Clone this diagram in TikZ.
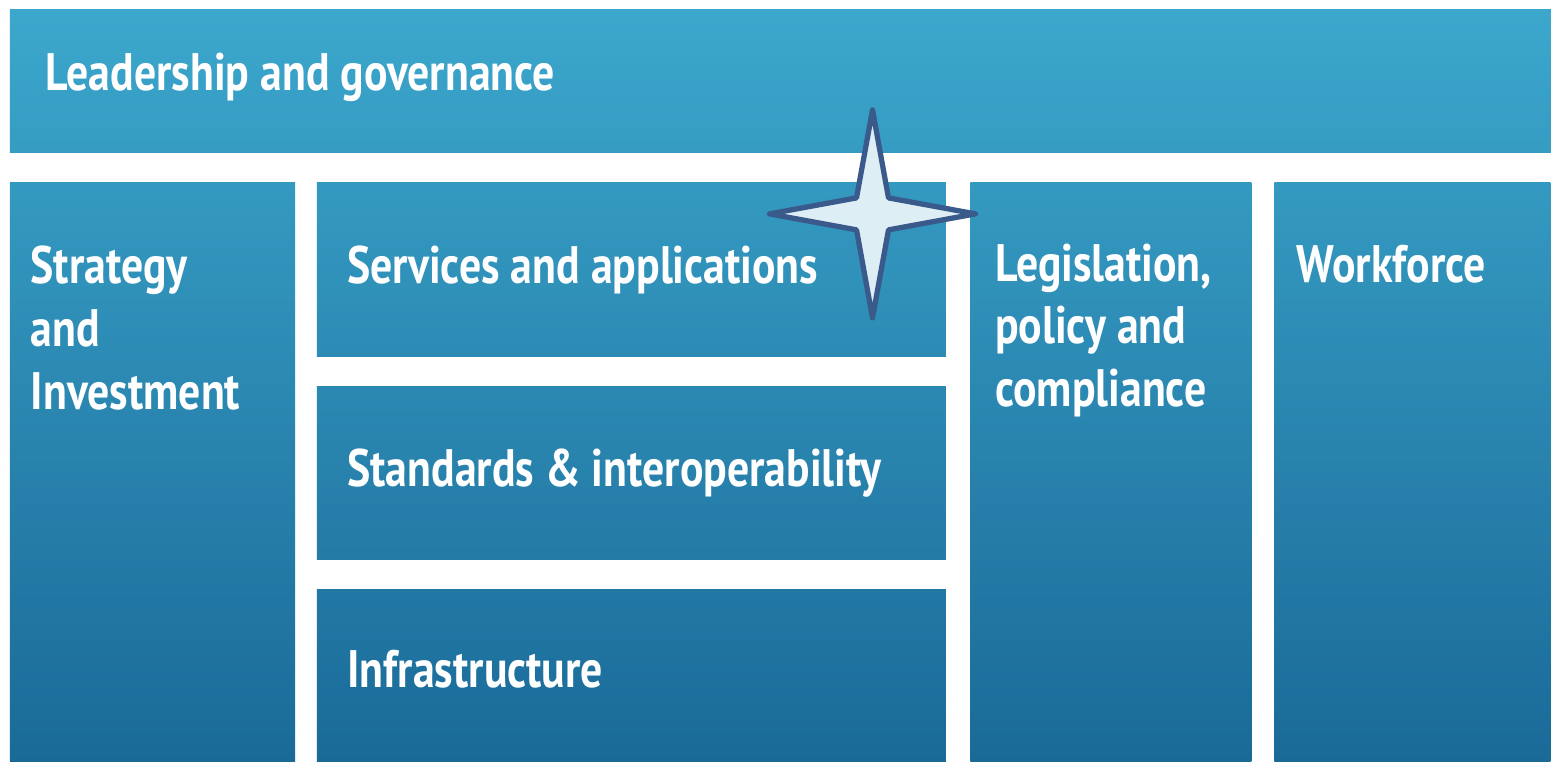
\documentclass[tikz,border=0pt]{standalone}
\usepackage{fontspec}
\setmainfont{PT Sans}[FakeStretch=0.83]
\usepackage{xcolor}
\usetikzlibrary{positioning, calc}

\definecolor{gtop}{HTML}{3CA7CC}
\definecolor{gbot}{HTML}{1A6A98}
\definecolor{starfill}{HTML}{DDEEF4}
\definecolor{starline}{HTML}{3A5A8C}

\tikzset{
  box/.style={anchor=north west, inner sep=0pt, outer sep=0pt},
  lbl/.style={anchor=north west, inner sep=0pt, text=white, align=left,
    font=\bfseries\fontsize{15}{17.9}\selectfont}
}

\begin{document}
\begin{tikzpicture}[x=0.01cm, y=-0.01cm]
    \fill[white] (0,0) rectangle (1551,762);

    % blocks
    \node[box, minimum width=15.41cm, minimum height=1.43cm, top color=gtop, bottom color=gtop!81!gbot] (lead) at (10,10) {};
    \node[box, minimum width=2.85cm, minimum height=5.79cm, top color=gtop!77!gbot, bottom color=gbot] (strat) at (10,183) {};
    \node[box, minimum width=6.29cm, minimum height=1.74cm, top color=gtop!77!gbot, bottom color=gtop!54!gbot] (serv) at (317,183) {};
    \node[box, minimum width=6.29cm, minimum height=1.73cm, top color=gtop!50!gbot, bottom color=gtop!27!gbot] (stand) at (317,387) {};
    \node[box, minimum width=6.29cm, minimum height=1.72cm, top color=gtop!23!gbot, bottom color=gbot] (infra) at (317,590) {};
    \node[box, minimum width=2.81cm, minimum height=5.79cm, top color=gtop!77!gbot, bottom color=gbot] (legis) at (971,183) {};
    \node[box, minimum width=2.76cm, minimum height=5.79cm, top color=gtop!77!gbot, bottom color=gbot] (work) at (1275,183) {};

    % labels
    \node[lbl] (leadtxt) at ([shift={(0.35cm,-0.42cm)}]lead.north west) {Leadership and governance};
    \node[lbl] (strattxt) at ([shift={(0.20cm,-0.62cm)}]strat.north west) {Strategy\\and\\Investment};
    \node[lbl] (servtxt) at ([shift={(0.30cm,-0.62cm)}]serv.north west) {Services and applications};
    \node[lbl] (standtxt) at ([shift={(0.30cm,-0.61cm)}]stand.north west) {Standards \& interoperability};
    \node[lbl] (infratxt) at ([shift={(0.30cm,-0.60cm)}]infra.north west) {Infrastructure};
    \node[lbl] (legistxt) at ([shift={(0.24cm,-0.60cm)}]legis.north west) {Legislation,\\policy and\\compliance};
    \node[lbl] (worktxt) at ([shift={(0.22cm,-0.62cm)}]work.north west) {Workforce};

    % star
    \coordinate (star) at (873,214);
    \draw[starline, fill=starfill, line width=1.5pt, line join=round]
        ($(star)+(0,-104)$) -- ($(star)+(16,-16)$) -- ($(star)+(103,0)$) -- ($(star)+(16,16)$)
        -- ($(star)+(0,104)$) -- ($(star)+(-16,16)$) -- ($(star)+(-103,0)$) -- ($(star)+(-16,-16)$) -- cycle;
\end{tikzpicture}
\end{document}
